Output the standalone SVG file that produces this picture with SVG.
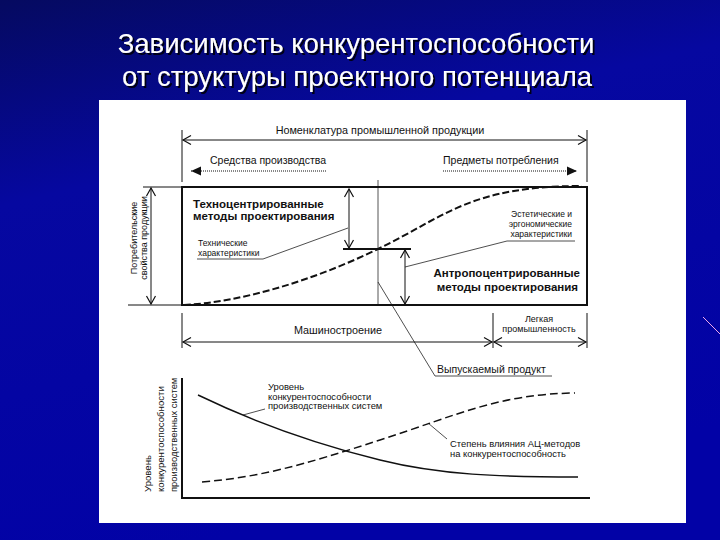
<svg xmlns="http://www.w3.org/2000/svg" width="720" height="540" viewBox="0 0 720 540">
<style>
.t{font-family:"Liberation Sans",Arial,sans-serif;fill:#111}
.title{font-family:"Liberation Sans",Arial,sans-serif;font-size:27.5px;text-anchor:middle;fill:#ffffff}
.ln{stroke:#111;fill:none;stroke-width:1}
.thin{stroke:#222;fill:none;stroke-width:0.8}
.b{font-weight:bold}
</style>
<defs>
<linearGradient id="bg" x1="0" y1="0" x2="0.3" y2="1">
<stop offset="0" stop-color="#050a60"/>
<stop offset="0.35" stop-color="#0608a0"/>
<stop offset="1" stop-color="#0202a6"/>
</linearGradient>
<filter id="shadow" x="-5%" y="-30%" width="110%" height="160%">
<feDropShadow dx="2" dy="2" stdDeviation="0.3" flood-color="#000018" flood-opacity="1"/>
</filter>
<marker id="open" markerUnits="userSpaceOnUse" markerWidth="12" markerHeight="12" viewBox="-10 -6 12 12" refX="0" refY="0" orient="auto-start-reverse">
<path d="M-8,-4.5 L0,0 L-8,4.5" fill="none" stroke="#111" stroke-width="1.2"/>
</marker>
<marker id="fill" markerUnits="userSpaceOnUse" markerWidth="12" markerHeight="12" viewBox="-10 -6 12 12" refX="0" refY="0" orient="auto-start-reverse">
<path d="M-10,-4.5 L0,0 L-10,4.5 Z" fill="#111"/>
</marker>
</defs>
<rect width="720" height="540" fill="url(#bg)"/>
<line x1="703" y1="317" x2="720" y2="334" stroke="#f0a8e8" stroke-width="1"/>
<g id="title" filter="url(#shadow)">
<text class="title" x="356" y="53">Зависимость конкурентоспособности</text>
<text class="title" x="357" y="86"> от структуры проектного потенциала</text>
</g>
<rect id="panel" x="99" y="100" width="587" height="423" fill="#ffffff"/>
<g id="connectors">
<line class="ln" x1="182" y1="130" x2="182" y2="182"/>
<line class="ln" x1="587" y1="130" x2="587" y2="182"/>
<line class="ln" x1="183" y1="140" x2="586" y2="140" marker-start="url(#open)" marker-end="url(#open)"/>
<line x1="191" y1="171" x2="327" y2="171" stroke="#111" stroke-width="1.2" stroke-dasharray="1 1" marker-start="url(#fill)"/>
<line x1="443" y1="171" x2="577" y2="171" stroke="#111" stroke-width="1.2" stroke-dasharray="1 1" marker-end="url(#fill)"/>
<line class="ln" x1="143" y1="187" x2="182" y2="187"/>
<line class="ln" x1="128" y1="305" x2="182" y2="305"/>
<line class="ln" x1="151" y1="188" x2="151" y2="304" marker-start="url(#open)" marker-end="url(#open)"/>
<line x1="378" y1="180" x2="378" y2="305" stroke="#555" stroke-width="1"/>
<line class="ln" x1="349" y1="189" x2="349" y2="248" marker-start="url(#open)" marker-end="url(#open)"/>
<line x1="343" y1="249" x2="411" y2="249" stroke="#111" stroke-width="1.8"/>
<line class="ln" x1="405" y1="250" x2="405" y2="304" marker-start="url(#open)" marker-end="url(#open)"/>
<polyline class="thin" points="197,259 263,259 348,228"/>
<polyline class="thin" points="575,241 507,241 405,267"/>
<polyline class="thin" points="378,282 435,376 552,376"/>
<line class="ln" x1="182" y1="313" x2="182" y2="348"/>
<line class="ln" x1="493" y1="313" x2="493" y2="348"/>
<line class="ln" x1="587" y1="313" x2="587" y2="348"/>
<line class="ln" x1="183" y1="342" x2="492" y2="342" marker-start="url(#open)" marker-end="url(#open)"/>
<line class="ln" x1="494" y1="342" x2="586" y2="342" marker-start="url(#open)" marker-end="url(#open)"/>
<line class="thin" x1="243" y1="415" x2="265" y2="409"/>
<line class="thin" x1="428" y1="423" x2="447" y2="439"/>
</g>
<g id="box">
<rect x="182" y="187" width="405" height="118" fill="none" stroke="#111" stroke-width="2"/>
<path d="M184,305 C240,302 310,282 378,249 S470,186 582,186" fill="none" stroke="#111" stroke-width="2" stroke-dasharray="7 3"/>
</g>
<g id="top-labels">
<text class="t" x="380" y="134" font-size="10.8" text-anchor="middle">Номенклатура промышленной продукции</text>
<text class="t" x="210" y="164" font-size="10.5">Средства производства</text>
<text class="t" x="443" y="164" font-size="10.5">Предметы потребления</text>
</g>
<g id="axis-label-top">
<text class="t" font-size="9" text-anchor="middle" transform="translate(137,238) rotate(-90)">Потребительские</text>
<text class="t" font-size="9" text-anchor="middle" transform="translate(146.5,238) rotate(-90)">свойства продукции</text>
</g>
<g id="techno">
<text class="t b" x="193" y="208" font-size="11.5">Техноцентрированные</text>
<text class="t b" x="193" y="220" font-size="11.5">методы проектирования</text>
</g>
<g id="tech-char">
<text class="t" x="198" y="246" font-size="8.5">Технические</text>
<text class="t" x="198" y="256" font-size="8.5">характеристики</text>
</g>
<g id="aesthetic">
<text class="t" x="572" y="217" font-size="8.5" text-anchor="end">Эстетические и</text>
<text class="t" x="572" y="227" font-size="8.5" text-anchor="end">эргономические</text>
<text class="t" x="572" y="237" font-size="8.5" text-anchor="end">характеристики</text>
</g>
<g id="anthropo">
<text class="t b" x="580" y="277" font-size="11.5" text-anchor="end">Антропоцентрированные</text>
<text class="t b" x="578" y="291" font-size="11.5" text-anchor="end">методы проектирования</text>
</g>
<g id="industry-labels">
<text class="t" x="338" y="334" font-size="10.8" text-anchor="middle">Машиностроение</text>
<text class="t" x="539" y="322" font-size="9" text-anchor="middle">Легкая</text>
<text class="t" x="539" y="332" font-size="9" text-anchor="middle">промышленность</text>
</g>
<g id="product">
<text class="t" x="437" y="373" font-size="10.5">Выпускаемый продукт</text>
</g>
<g id="lower-chart">
<line x1="182" y1="378" x2="182" y2="499" stroke="#111" stroke-width="2"/>
<line x1="181" y1="498" x2="590" y2="498" stroke="#111" stroke-width="2"/>
<path d="M198,395 C260,425 320,445 380,460 S500,477 578,477" fill="none" stroke="#111" stroke-width="1.4"/>
<path d="M202,482 C260,477 300,466 380,440 S500,394 575,393" fill="none" stroke="#111" stroke-width="1.5" stroke-dasharray="8 4"/>
</g>
<g id="axis-label-bottom">
<text class="t" font-size="9.6" transform="translate(151,492) rotate(-90)">Уровень</text>
<text class="t" font-size="9.6" transform="translate(164,492) rotate(-90)">конкурентоспособности</text>
<text class="t" font-size="9.4" transform="translate(176.5,492) rotate(-90)">производственных систем</text>
</g>
<g id="level-label">
<text class="t" x="268" y="390" font-size="9.4">Уровень</text>
<text class="t" x="268" y="399.5" font-size="9.4">конкурентоспособности</text>
<text class="t" x="268" y="409" font-size="9.4">производственных систем</text>
</g>
<g id="degree-label">
<text class="t" x="450" y="447" font-size="9.4">Степень влияния АЦ-методов</text>
<text class="t" x="450" y="456.5" font-size="9.4">на конкурентоспособность</text>
</g>
</svg>
